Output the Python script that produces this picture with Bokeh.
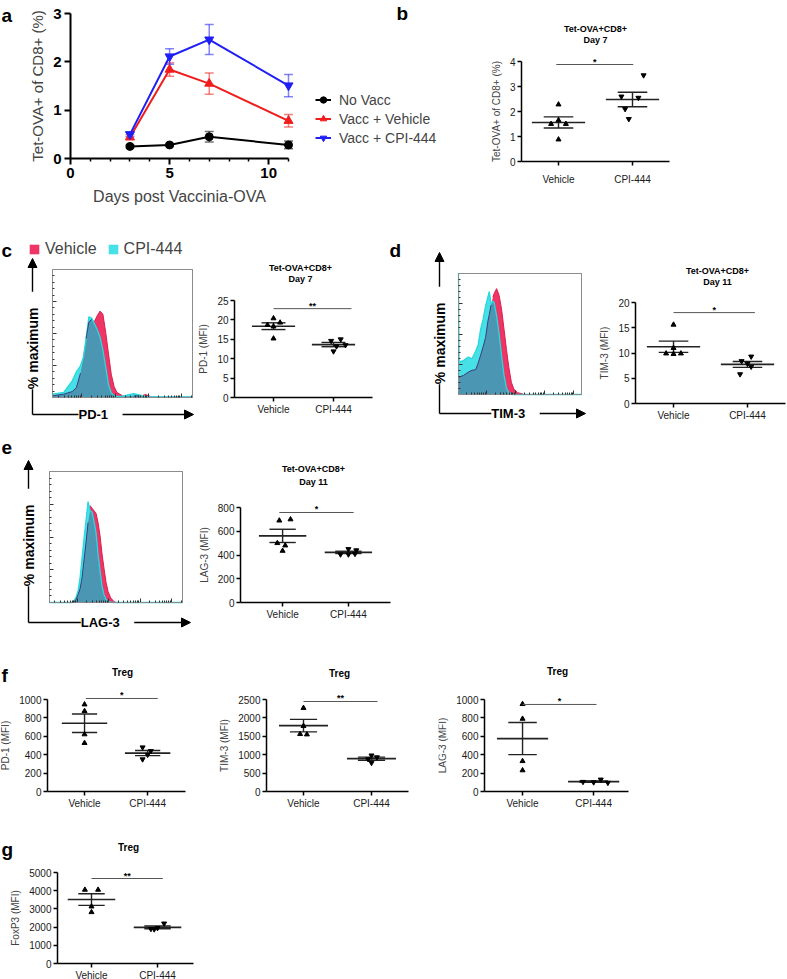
import numpy as np
from bokeh.plotting import figure
from bokeh.models import (Range1d, FixedTicker, Label, Legend, LegendItem, Whisker, TeeHead,
                          ColumnDataSource, Arrow, NormalHead, Spacer, LinearAxis)
from bokeh.layouts import row, column
from bokeh.embed import file_html
from bokeh.resources import INLINE

FONT = "Liberation Sans"

# ---------------- data ----------------
# panel a : time course
a_days = [3, 5, 7, 11]
a_novacc = [0.25, 0.28, 0.45, 0.28]
a_novacc_sem = [0.03, 0.03, 0.11, 0.08]
a_vehicle = [0.44, 1.84, 1.55, 0.78]
a_vehicle_sem = [0.05, 0.14, 0.22, 0.13]
a_cpi = [0.50, 2.11, 2.46, 1.51]
a_cpi_sem = [0.05, 0.16, 0.31, 0.23]
a_series = ["No Vacc", "Vacc + Vehicle", "Vacc + CPI-444"]

groups = ["Vehicle", "CPI-444"]

# scatter panels (individual mice)
b_veh = [2.28, 1.50, 1.65, 1.50, 0.88]
b_cpi = [3.45, 2.60, 2.55, 2.10, 1.70]
c_veh = [20.4, 19.3, 18.7, 18.3, 15.2]
c_cpi = [15.0, 14.6, 13.5, 13.2, 11.9]
d_veh = [15.6, 11.0, 9.9, 9.8, 9.9]
d_cpi = [9.3, 8.4, 7.9, 7.3, 5.8]
e_veh = [700, 690, 500, 480, 435]
e_cpi = [450, 440, 405, 405, 410]
f1_veh = [946, 874, 621, 527]
f1_cpi = [480, 440, 400, 350]
f2_veh = [2270, 1780, 1560, 1550]
f2_cpi = [980, 930, 880, 780]
f3_veh = [950, 790, 330, 230]
f3_cpi = [130, 105, 100, 95]
g_veh = [4050, 4050, 3130, 2820]
g_cpi = [2200, 1950, 1900, 1880]

# significance bars: (x start, x end, level, stars)
b_sig = (0.97, 2.01, 3.88, "*")
c_sig = (1.0, 2.3, 22.9, "**")
d_sig = (1.0, 2.1, 18.0, "*")
e_sig = (0.95, 2.08, 758, "*")
f1_sig = (1.02, 2.16, 1011, "*")
f2_sig = (1.0, 2.09, 2446, "**")
f3_sig = (1.0, 2.04, 946, "*")
g_sig = (1.0, 2.08, 4670, "**")

# histograms (display channel 0-100, % of maximum)
c_u = [0, 8, 14, 17, 20, 22, 24, 26, 28, 30, 32, 34, 36, 38, 40, 42, 44, 46, 50, 58, 62, 66, 70, 100]
c_hveh = [1.3, 2.6, 4.6, 7.5, 19, 33, 46, 59, 61, 59.5, 64, 67.5, 65, 51, 34, 18, 8.5, 4, 1.3, 1.2, 1.3, 2.5, 0.8, 0.5]
c_hcpi = [2.6, 4, 12.8, 20, 24.8, 31, 46, 63, 62, 57.5, 53, 47, 37, 24, 10, 3.5, 1.5, 0.8, 1, 3.1, 2, 0.8, 0.5, 0.5]

d_u = [0, 0.5, 4, 8, 11, 14, 16, 18, 20, 22, 24, 25, 26.5, 28, 29, 31, 33, 35, 37, 39, 41, 43, 45, 48, 52, 56, 100]
d_hveh = [14.4, 14.5, 15.7, 18.5, 20, 20.5, 26, 32.5, 39.5, 47, 61, 66, 74, 80.5, 83.5, 87.5, 82, 70.5, 54, 37, 22, 10, 4.5, 1.5, 0.6, 0, 0]
d_hcpi = [100, 27, 28, 31, 29.5, 36, 41, 54, 62, 73, 81, 85, 75, 77, 76, 65, 50, 32, 16, 5, 1.5, 0.5, 0, 0, 0, 0, 0]

e_u = [0, 17, 18.5, 20, 21.5, 23, 24.5, 26, 27.5, 29, 30.5, 32, 33.5, 35, 36.5, 38, 39.5, 41, 42.5, 44, 46, 48, 51, 100]
e_hveh = [0, 0, 0.3, 2.5, 6, 10.5, 19, 33, 46, 61, 74, 72, 70, 68, 61, 51, 37, 26, 15.5, 8.5, 3.5, 1.3, 0, 0]
e_hcpi = [0, 0, 1.5, 4, 9, 19, 34, 49, 63, 77, 70, 69, 62, 53, 37, 24, 12.5, 6, 2.5, 1, 0.3, 0, 0, 0]

# jitter of the points, in group units
b_dx = ([0, -0.1, 0, 0.1, 0], [0.15, -0.15, 0.08, -0.1, -0.05])
c_dx = ([0, 0.11, -0.1, 0, 0], [0.12, -0.04, 0.2, 0.05, 0])
d_dx = ([0, 0, -0.1, 0, 0.1], [0.05, -0.08, 0, 0.05, -0.1])
e_dx = ([0.12, -0.05, -0.08, 0.04, 0], [0, 0.12, -0.12, 0, 0.1])
f1_dx = ([0, 0, 0, 0], [-0.08, 0.05, 0, -0.08])
f2_dx = ([0, 0, -0.05, 0.05], [0, 0.08, -0.05, 0])
f3_dx = ([0, 0, 0, 0], [0.1, -0.15, 0, 0.2])
g_dx = ([-0.1, 0.1, 0, 0], [0.1, 0, -0.1, -0.05])

RED_H = "#EF3566"
CYAN_H = "#47E0E6"
TEAL_H = "#4B97B3"
CYAN_L = "#27D8DE"
NAVY_L = "#3A3D7E"


# ---------------- helpers ----------------
def make_fig(fig_box, box, xr, yr):
    """Figure whose frame fills the whole canvas; `box` (page pixels) maps onto xr/yr."""
    FL, FT, FR, FB = fig_box
    fl, ft, fr, fb = box
    sx = (xr[1] - xr[0]) / (fr - fl)
    sy = (yr[1] - yr[0]) / (fb - ft)
    X0 = xr[0] - (fl - FL) * sx
    X1 = xr[1] + (FR - fr) * sx
    Y0 = yr[0] - (FB - fb) * sy
    Y1 = yr[1] + (ft - FT) * sy
    p = figure(width=FR - FL, height=FB - FT, x_range=Range1d(X0, X1), y_range=Range1d(Y0, Y1),
               x_axis_location=None, y_axis_location=None, min_border=0,
               toolbar_location=None, output_backend="svg")
    p.grid.visible = False
    p.outline_line_color = None
    p.background_fill_color = "white"
    p.border_fill_color = "white"
    geo = dict(FL=FL, FT=FT, sx=sx, sy=sy, X0=X0, Y1=Y1)
    return p, geo


def to_data(geo, X, Y):
    return geo["X0"] + (X - geo["FL"]) * geo["sx"], geo["Y1"] - (Y - geo["FT"]) * geo["sy"]


def to_px(geo, x, y):
    return geo["FL"] + (x - geo["X0"]) / geo["sx"], geo["FT"] + (geo["Y1"] - y) / geo["sy"]


def add_text(p, geo, X, Y, text, size, bold=False, align="center", angle=0.0, bg=None,
             color="black"):
    x, y = to_data(geo, X, Y)
    p.add_layout(Label(x=x, y=y, text=text, text_font=FONT, text_font_size=f"{size}px",
                       text_font_style="bold" if bold else "normal", text_align=align,
                       text_baseline="middle", angle=angle, text_color=color,
                       background_fill_color=bg))


def style_axis(ax, size, bold=False, line_w=1.5, tick_out=4, standoff=2, lab_size=None,
               lab_standoff=5):
    ax.axis_line_width = line_w
    ax.axis_line_color = "black"
    ax.major_tick_line_color = "black"
    ax.major_tick_line_width = line_w
    ax.major_tick_out = tick_out
    ax.major_tick_in = 0
    ax.minor_tick_line_color = None
    ax.major_label_text_font = FONT
    ax.major_label_text_font_size = f"{size}px"
    ax.major_label_text_font_style = "bold" if bold else "normal"
    ax.major_label_text_color = "#1a1a1a" if not bold else "black"
    ax.major_label_standoff = standoff
    ax.axis_label_text_font = FONT
    ax.axis_label_text_font_size = f"{lab_size or size}px"
    ax.axis_label_text_font_style = "normal"
    ax.axis_label_standoff = lab_standoff


def dotplot(fig_box, box, xr, yticks, ylabel, veh, cpi, dx, sig, titles, title_x, title_ys,
            title_size, xlab_standoff=2):
    yr = (yticks[0], yticks[-1])
    p, geo = make_fig(fig_box, box, xr, yr)
    xa = LinearAxis(fixed_location=yr[0], bounds=xr, ticker=FixedTicker(ticks=[1, 2]))
    xa.major_label_overrides = {1: groups[0], 2: groups[1]}
    style_axis(xa, 10, standoff=xlab_standoff)
    p.add_layout(xa, "below")
    ya = LinearAxis(fixed_location=xr[0], bounds=yr, ticker=FixedTicker(ticks=yticks),
                    axis_label=ylabel)
    style_axis(ya, 10)
    p.add_layout(ya, "left")
    for grp, vals, jit, marker in ((1, veh, dx[0], "triangle"), (2, cpi, dx[1], "inverted_triangle")):
        vals = np.asarray(vals, float)
        m = vals.mean()
        s = vals.std(ddof=1) / np.sqrt(len(vals))
        p.segment(x0=[grp - 0.36], x1=[grp + 0.36], y0=[m], y1=[m], line_color="#222222",
                  line_width=1.6)
        p.segment(x0=[grp, grp - 0.2, grp - 0.2], x1=[grp, grp + 0.2, grp + 0.2],
                  y0=[m - s, m + s, m - s], y1=[m + s, m + s, m - s],
                  line_color="#222222", line_width=1.4)
        p.scatter(x=grp + np.asarray(jit), y=vals, marker=marker, size=5, color="black")
    x1, x2, lvl, stars = sig
    p.segment(x0=[x1], x1=[x2], y0=[lvl], y1=[lvl], line_color="#555555", line_width=1)
    sx, sy = to_px(geo, (x1 + x2) / 2, lvl)
    add_text(p, geo, sx, sy - 3, stars, 9, bold=True)
    for t, ty in zip(titles, title_ys):
        add_text(p, geo, title_x, ty, t, title_size, bold=True)
    return p, geo


def frame_axis(p, place, loc, ticks_major, ticks_minor):
    for ticks, length in ((ticks_major, 4), (ticks_minor, 2)):
        ax = LinearAxis(fixed_location=loc, bounds=(0, 100),
                        ticker=FixedTicker(ticks=[], minor_ticks=ticks))
        ax.axis_line_color = "#8c8c8c"
        ax.axis_line_width = 1
        ax.minor_tick_in = length
        ax.minor_tick_out = 0
        ax.minor_tick_line_color = "#333333"
        ax.major_tick_line_color = None
        p.add_layout(ax, place)


def histo(fig_box, box, u, veh, cpi, decades, xlabel, corner, vtip, htip, vtext, htext):
    p, geo = make_fig(fig_box, box, (0, 100), (0, 100))
    mant = np.log10(np.arange(2, 10))
    minors = [d + 23.7 * m for d in decades for m in mant]
    minors = [v for v in minors if 0 < v < 100]
    frame_axis(p, "below", 0, [d for d in decades if 0 < d < 100], minors)
    frame_axis(p, "left", 0, [25, 50, 75], [v for v in range(5, 100, 5) if v % 25])
    frame_axis(p, "above", 100, [], [])
    frame_axis(p, "right", 100, [], [])
    u = np.asarray(u, float)
    v = np.asarray(veh, float)
    c = np.asarray(cpi, float)
    rv = p.varea(x=u, y1=np.zeros_like(u), y2=v, fill_color=RED_H)
    rc = p.varea(x=u, y1=np.zeros_like(u), y2=c, fill_color=CYAN_H)
    p.varea(x=u, y1=np.zeros_like(u), y2=np.minimum(v, c), fill_color=TEAL_H)
    p.line(u, np.where(v > c, v, np.nan), line_color="#D81F50", line_width=1)
    p.line(u, c, line_color=CYAN_L, line_width=1.3)
    p.line(u, np.where(v <= c, v, np.nan), line_color=NAVY_L, line_width=1)
    cx, cy = corner
    x0, y0 = to_data(geo, cx, cy)
    xv, yv = to_data(geo, cx, vtip)
    xh, yh = to_data(geo, htip, cy)
    for xe, ye in ((xv, yv), (xh, yh)):
        p.add_layout(Arrow(end=NormalHead(size=9, fill_color="black", line_color="black"),
                           x_start=x0, y_start=y0, x_end=xe, y_end=ye, line_width=1.4))
    add_text(p, geo, cx, vtext, "  % maximum  ", 14, bold=True, angle=np.pi / 2, bg="white")
    add_text(p, geo, htext, cy, "  " + xlabel + "  ", 13, bold=True, bg="white")
    return p, geo, rv, rc


# ---------------- panel a ----------------
pa, ga = make_fig((0, 0, 470, 240), (70, 13, 288, 158), (0, 11), (0, 3))
xa = LinearAxis(fixed_location=0, bounds=(0, 11),
                ticker=FixedTicker(ticks=[0, 5, 10], minor_ticks=[1, 2, 3, 4, 6, 7, 8, 9, 11]),
                axis_label="Days post Vaccinia-OVA")
ya = LinearAxis(fixed_location=0, bounds=(0, 3), ticker=FixedTicker(ticks=[0, 1, 2, 3]),
                axis_label="Tet-OVA+ of CD8+ (%)")
style_axis(xa, 15, bold=True, line_w=2, tick_out=6, standoff=3, lab_size=16, lab_standoff=7)
style_axis(ya, 15, bold=True, line_w=2, tick_out=6, standoff=3, lab_size=15, lab_standoff=4)
xa.minor_tick_line_color = "black"
xa.minor_tick_line_width = 1.5
xa.minor_tick_out = 3
xa.minor_tick_in = 0
pa.add_layout(xa, "below")
pa.add_layout(ya, "left")

items = []
for name, vals, sem, col, marker, size in (
        (a_series[0], a_novacc, a_novacc_sem, "black", "circle", 8),
        (a_series[1], a_vehicle, a_vehicle_sem, "#F21C1C", "triangle", 9),
        (a_series[2], a_cpi, a_cpi_sem, "#1F1FF5", "inverted_triangle", 9)):
    vals = np.asarray(vals)
    sem = np.asarray(sem)
    src = ColumnDataSource(dict(x=a_days, lo=vals - sem, hi=vals + sem))
    pa.add_layout(Whisker(base="x", upper="hi", lower="lo", source=src, line_color=col,
                          line_alpha=0.55, line_width=1.5,
                          upper_head=TeeHead(size=9, line_color=col, line_alpha=0.55, line_width=1.5),
                          lower_head=TeeHead(size=9, line_color=col, line_alpha=0.55, line_width=1.5)))
    l = pa.line(a_days, vals, line_color=col, line_width=2)
    s = pa.scatter(a_days, vals, marker=marker, size=size, color=col)
    items.append(LegendItem(label=name, renderers=[l, s]))
leg = Legend(items=items, location=(315, 240 - 147), label_text_font=FONT,
             label_text_font_size="14px", glyph_width=16, glyph_height=19, label_height=19,
             spacing=0, padding=0, margin=0, border_line_color=None, background_fill_alpha=0,
             label_standoff=8)
pa.add_layout(leg)
add_text(pa, ga, 1, 15, "a", 19, bold=True, align="left")
add_text(pa, ga, 396, 13, "b", 19, bold=True, align="left")

# ---------------- panel b ----------------
pb, gb = dotplot((470, 0, 787, 240), (521, 61, 669, 161), (0.5, 2.5), [0, 1, 2, 3, 4],
                 "Tet-OVA+ of CD8+ (%)", b_veh, b_cpi, b_dx, b_sig,
                 ["Tet-OVA+CD8+", "Day 7"], 595, [28, 39], 9, xlab_standoff=8)

# ---------------- row 2 ----------------
pc1, gc1, rcv, rcc = histo((0, 240, 195, 430), (52, 269, 192, 397), c_u, c_hveh, c_hcpi,
                           [-2.7, 21, 44.7, 68.4, 92.1], "PD-1", (32, 414), 258, 193, 340, 100)
legc = Legend(items=[LegendItem(label=groups[0], renderers=[rcv]),
                     LegendItem(label=groups[1], renderers=[rcc])],
              location=(28, 430 - 258), orientation="horizontal",
              label_text_font=FONT, label_text_font_size="16px", glyph_width=12, glyph_height=12,
              label_height=16, spacing=10, padding=0, margin=0, label_standoff=5,
              border_line_color=None, background_fill_alpha=0)
pc1.add_layout(legc)
add_text(pc1, gc1, 1, 250, "c", 19, bold=True, align="left")

pc2, gc2 = dotplot((195, 240, 388, 430), (234, 300, 372, 397), (0.35, 2.65), [0, 5, 10, 15, 20, 25],
                   "PD-1 (MFI)", c_veh, c_cpi, c_dx, c_sig,
                   ["Tet-OVA+CD8+", "Day 7"], 300, [267, 278], 9)

pd1, gd1, _, _ = histo((388, 240, 590, 430), (458, 273, 581, 394), d_u, d_hveh, d_hcpi,
                       [-1, 22.7, 46.4, 70.1, 93.8], "TIM-3", (439, 413), 252, 585, 335, 515)
add_text(pd1, gd1, 389, 250, "d", 19, bold=True, align="left")

pd2, gd2 = dotplot((590, 240, 787, 430), (635, 302, 785, 403), (0.486, 2.514), [0, 5, 10, 15, 20],
                   "TIM-3 (MFI)", d_veh, d_cpi, d_dx, d_sig,
                   ["Tet-OVA+CD8+", "Day 11"], 717, [270, 281], 9)

# ---------------- row 3 ----------------
pe1, ge1, _, _ = histo((0, 430, 195, 640), (49, 471, 182, 602), e_u, e_hveh, e_hcpi,
                       [-3, 20.7, 44.4, 68.1, 91.8], "LAG-3", (28, 622), 460, 190, 537, 107)
add_text(pe1, ge1, 1, 447, "e", 19, bold=True, align="left")

pe2, ge2 = dotplot((195, 430, 400, 640), (240, 507, 390, 602), (0.36, 2.64), [0, 200, 400, 600, 800],
                   "LAG-3 (MFI)", e_veh, e_cpi, e_dx, e_sig,
                   ["Tet-OVA+CD8+", "Day 11"], 313, [468, 481], 9)

# ---------------- row 4 ----------------
pf1, gf1 = dotplot((0, 640, 218, 830), (47, 699, 185, 791), (0.413, 2.6),
                   [0, 200, 400, 600, 800, 1000], "PD-1 (MFI)", f1_veh, f1_cpi, f1_dx, f1_sig,
                   ["Treg"], 122, [672], 10)
add_text(pf1, gf1, 1, 675, "f", 19, bold=True, align="left")
pf2, gf2 = dotplot((218, 640, 438, 830), (266, 699, 408, 791), (0.456, 2.544),
                   [0, 500, 1000, 1500, 2000, 2500], "TIM-3 (MFI)", f2_veh, f2_cpi, f2_dx, f2_sig,
                   ["Treg"], 339, [673], 10)
pf3, gf3 = dotplot((438, 640, 787, 830), (484, 699, 628, 791), (0.465, 2.49),
                   [0, 200, 400, 600, 800, 1000], "LAG-3 (MFI)", f3_veh, f3_cpi, f3_dx, f3_sig,
                   ["Treg"], 557, [671], 10)

# ---------------- row 5 ----------------
pg, gg = dotplot((0, 830, 230, 979), (57, 872, 193, 963), (0.485, 2.545),
                 [0, 1000, 2000, 3000, 4000, 5000], "FoxP3 (MFI)", g_veh, g_cpi, g_dx, g_sig,
                 ["Treg"], 128, [847], 10)
add_text(pg, gg, 1, 849, "g", 19, bold=True, align="left")

layout = column(
    row(pa, pb, spacing=0),
    row(pc1, pc2, pd1, pd2, spacing=0),
    row(pe1, pe2, Spacer(width=387, height=210), spacing=0),
    row(pf1, pf2, pf3, spacing=0),
    row(pg, Spacer(width=557, height=149), spacing=0),
    spacing=0,
)

open("out.html", "w").write(file_html(layout, INLINE))
